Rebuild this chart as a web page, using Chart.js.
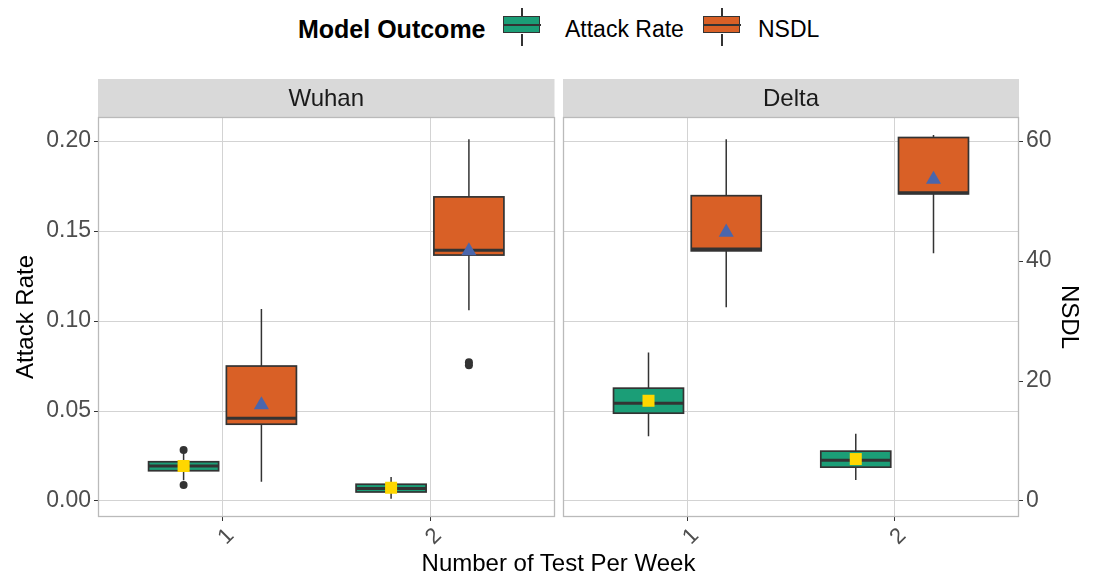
<!DOCTYPE html>
<html>
<head>
<meta charset="utf-8">
<script src="https://cdn.jsdelivr.net/npm/chart.js@4.4.1/dist/chart.umd.min.js"></script>
<style>
  html, body { margin: 0; padding: 0; background: #fff; }
  #wrap { position: relative; width: 1095px; height: 576px; overflow: hidden; font-family: "Liberation Sans", Arial, sans-serif; }
  canvas { position: absolute; }
  .lg { position: absolute; white-space: nowrap; line-height: 30px; height: 30px; top: 14px; color: #000; }
  .key { position: absolute; top: 8px; width: 38px; height: 38px; }
  .key .box { position: absolute; left: 0; top: 8px; width: 35px; height: 15px; border: 1.5px solid #333; }
  .key .med { position: absolute; left: 0; top: 16px; width: 38px; height: 2px; background: #333; }
  .key .wh { position: absolute; left: 18px; width: 1.5px; background: #333; }
  #xtitle { position: absolute; left: 0; width: 1117px; top: 549px; text-align: center; font-size: 24px; line-height: 28px; color: #000; }
</style>
</head>
<body>
<div id="wrap">
  <div class="lg" style="left:298px;font-size:25px;font-weight:bold;">Model Outcome</div>
  <div class="key" style="left:503px;">
    <div class="wh" style="top:0;height:8px;"></div>
    <div class="box" style="background:#1B9E77;"></div>
    <div class="med"></div>
    <div class="wh" style="top:26px;height:12px;"></div>
  </div>
  <div class="lg" style="left:565px;font-size:23px;">Attack Rate</div>
  <div class="key" style="left:703px;">
    <div class="wh" style="top:0;height:8px;"></div>
    <div class="box" style="background:#D96026;"></div>
    <div class="med"></div>
    <div class="wh" style="top:26px;height:12px;"></div>
  </div>
  <div class="lg" style="left:758px;font-size:23px;">NSDL</div>
  <canvas id="cWuhan" width="556" height="497" style="left:0px;top:79px;width:556px;height:497px;"></canvas>
  <canvas id="cDelta" width="537" height="497" style="left:558px;top:79px;width:537px;height:497px;"></canvas>
  <div id="xtitle">Number of Test Per Week</div>
</div>
<script>
// ---------------- data ----------------
const weeks = [1, 2];
const tickLabels = ['1', '2'];
const panelNames = ['Wuhan', 'Delta'];
const seriesNames = ['Attack Rate', 'NSDL'];
const attackRateTicks = [0, 0.05, 0.10, 0.15, 0.20];
const nsdlTicks = [0, 20, 40, 60];
const nsdlPerAttackRate = 300;          // secondary axis: NSDL = Attack Rate * 300
const attackRateRange = [-0.0089, 0.2134];

// box stats per week: [lower whisker, Q1, median, Q3, upper whisker]
const wuhanAttackRate = [[0.0115, 0.0168, 0.0195, 0.0218, 0.0265], [0.0012, 0.0050, 0.0070, 0.0093, 0.0133]];
const wuhanAttackRateMean = [0.0195, 0.0074];
const wuhanAttackRateOutliers = [[0.0089, 0.0284], []];
const wuhanNSDL = [[3.2, 12.8, 13.8, 22.5, 32.0], [31.8, 41.0, 41.8, 50.7, 60.3]];
const wuhanNSDLMean = [16.0, 41.7];
const wuhanNSDLOutliers = [[], [22.65, 23.15]];

const deltaAttackRate = [[0.0360, 0.0488, 0.0543, 0.0627, 0.0825], [0.0117, 0.0188, 0.0227, 0.0277, 0.0373]];
const deltaAttackRateMean = [0.0557, 0.0233];
const deltaAttackRateOutliers = [[], []];
const deltaNSDL = [[32.3, 41.7, 42.0, 50.9, 60.3], [41.3, 51.2, 51.4, 60.6, 61.0]];
const deltaNSDLMean = [44.8, 53.6];
const deltaNSDLOutliers = [[], []];

// ---------------- styles ----------------
const FONT = '"Liberation Sans", Arial, sans-serif';
const COL_AR = '#1B9E77', COL_NSDL = '#D96026';
const COL_MEAN_AR = '#FFD700', COL_MEAN_NSDL = '#4A66AC';
const DODGE = 0.1875, HALF_BOX = 0.16875;
const GRID = '#D3D3D3', BORDER = '#BABABA', TICKC = '#333333', TICKTXT = '#4D4D4D';

const boxPlugin = {
  id: 'boxes',
  beforeDatasetsDraw(chart, args, opts) {
    const { ctx, chartArea } = chart;
    const xs = chart.scales.x, ys = chart.scales.y;
    ctx.save();
    ctx.beginPath();
    ctx.rect(chartArea.left, chartArea.top, chartArea.right - chartArea.left, chartArea.bottom - chartArea.top);
    ctx.clip();
    opts.items.forEach(it => {
      it.stats.forEach((s, i) => {
        const xc = weeks[i] + it.offset;
        const xl = xs.getPixelForValue(xc - HALF_BOX), xr = xs.getPixelForValue(xc + HALF_BOX), xm = xs.getPixelForValue(xc);
        const [yLo, yQ1, yMed, yQ3, yHi] = s.map(d => ys.getPixelForValue(d / it.scale));
        ctx.strokeStyle = '#333333';
        ctx.lineWidth = 1.5;
        ctx.beginPath();
        ctx.moveTo(xm, yHi); ctx.lineTo(xm, yQ3);
        ctx.moveTo(xm, yQ1); ctx.lineTo(xm, yLo);
        ctx.stroke();
        ctx.fillStyle = it.color;
        ctx.fillRect(xl, yQ3, xr - xl, yQ1 - yQ3);
        ctx.lineWidth = 1.7;
        ctx.strokeRect(xl, yQ3, xr - xl, yQ1 - yQ3);
        ctx.lineWidth = 3;
        ctx.beginPath();
        ctx.moveTo(xl, yMed); ctx.lineTo(xr, yMed);
        ctx.stroke();
      });
    });
    ctx.restore();
  }
};

const panelPlugin = {
  id: 'panel',
  afterDraw(chart, args, opts) {
    const { ctx, chartArea: a } = chart;
    ctx.save();
    ctx.fillStyle = '#D9D9D9';
    ctx.fillRect(a.left, a.top - 38, a.right - a.left, 38);
    ctx.fillStyle = '#1A1A1A';
    ctx.font = '24px ' + FONT;
    ctx.textAlign = 'center';
    ctx.textBaseline = 'middle';
    ctx.fillText(opts.title, (a.left + a.right) / 2, a.top - 18);
    ctx.strokeStyle = BORDER;
    ctx.lineWidth = 1.3;
    ctx.strokeRect(Math.round(a.left) + 0.5, Math.round(a.top) + 0.5, Math.round(a.right - a.left) - 1, Math.round(a.bottom - a.top) - 1);
    ctx.restore();
  }
};

function pts(values, offset, scale) {
  return values.map((v, i) => ({ x: weeks[i] + offset, y: v / scale }));
}
function outlierPts(lists, offset, scale) {
  const out = [];
  lists.forEach((l, i) => l.forEach(v => out.push({ x: weeks[i] + offset, y: v / scale })));
  return out;
}
function noPad(s) { s.paddingLeft = 0; s.paddingRight = 0; s.paddingTop = 0; s.paddingBottom = 0; }

function makePanel(id, name, ar, arMean, arOut, ns, nsMean, nsOut, isLeft) {
  const scales = {
    x: {
      type: 'linear', min: 0.4, max: 2.6,
      afterBuildTicks: s => { s.ticks = weeks.map(v => ({ value: v })); },
      afterFit: s => { s.height = 59; noPad(s); },
      ticks: {
        callback: v => tickLabels[weeks.indexOf(v)],
        minRotation: 45, maxRotation: 45, color: TICKTXT, padding: 2, labelOffset: 8,
        font: { size: 22, family: FONT }
      },
      grid: { color: GRID, lineWidth: 1, tickLength: 4, tickColor: TICKC, tickWidth: 1 },
      border: { display: false }
    },
    y: {
      type: 'linear', position: 'left', min: attackRateRange[0], max: attackRateRange[1],
      afterBuildTicks: s => { s.ticks = attackRateTicks.map(v => ({ value: v })); },
      afterFit: s => { s.width = isLeft ? 98 : 0; noPad(s); },
      ticks: {
        display: isLeft,
        callback: v => v.toFixed(2), color: TICKTXT, padding: 3,
        font: { size: 23, family: FONT }
      },
      grid: { color: GRID, lineWidth: 1, drawTicks: isLeft, tickLength: 4, tickColor: TICKC, tickWidth: 1 },
      border: { display: false },
      title: { display: isLeft, text: seriesNames[0], color: '#000', font: { size: 24, family: FONT }, padding: { top: 12, bottom: 0 } }
    }
  };
  if (!isLeft) {
    scales.y2 = {
      type: 'linear', position: 'right',
      min: attackRateRange[0] * nsdlPerAttackRate, max: attackRateRange[1] * nsdlPerAttackRate,
      afterBuildTicks: s => { s.ticks = nsdlTicks.map(v => ({ value: v })); },
      afterFit: s => { s.width = 76; noPad(s); },
      ticks: { color: TICKTXT, padding: 3, font: { size: 23, family: FONT } },
      grid: { drawOnChartArea: false, tickLength: 4, tickColor: TICKC, tickWidth: 1 },
      border: { display: false },
      title: { display: true, text: seriesNames[1], color: '#000', font: { size: 24, family: FONT }, padding: { top: 12, bottom: 0 } }
    };
  }
  return new Chart(document.getElementById(id), {
    type: 'scatter',
    data: {
      datasets: [
        { label: 'AR mean', data: pts(arMean, -DODGE, 1), pointStyle: 'rect', pointRadius: 8.5, backgroundColor: COL_MEAN_AR, borderWidth: 0 },
        { label: 'NSDL mean', data: pts(nsMean, DODGE, nsdlPerAttackRate), pointStyle: 'triangle', pointRadius: 8.7, backgroundColor: COL_MEAN_NSDL, borderWidth: 0 },
        { label: 'AR outliers', data: outlierPts(arOut, -DODGE, 1), pointStyle: 'circle', pointRadius: 4, backgroundColor: '#333333', borderWidth: 0 },
        { label: 'NSDL outliers', data: outlierPts(nsOut, DODGE, nsdlPerAttackRate), pointStyle: 'circle', pointRadius: 4, backgroundColor: '#333333', borderWidth: 0 }
      ]
    },
    options: {
      responsive: false, animation: false, events: [],
      layout: {
        autoPadding: false,
        padding: isLeft ? { top: 38, right: 1.5, bottom: 0, left: 0 } : { top: 38, right: 0, bottom: 0, left: 5 }
      },
      scales,
      plugins: {
        legend: { display: false }, tooltip: { enabled: false },
        boxes: { items: [
          { stats: ar, offset: -DODGE, scale: 1, color: COL_AR },
          { stats: ns, offset: DODGE, scale: nsdlPerAttackRate, color: COL_NSDL }
        ] },
        panel: { title: name }
      }
    },
    plugins: [boxPlugin, panelPlugin]
  });
}

makePanel('cWuhan', panelNames[0], wuhanAttackRate, wuhanAttackRateMean, wuhanAttackRateOutliers, wuhanNSDL, wuhanNSDLMean, wuhanNSDLOutliers, true);
makePanel('cDelta', panelNames[1], deltaAttackRate, deltaAttackRateMean, deltaAttackRateOutliers, deltaNSDL, deltaNSDLMean, deltaNSDLOutliers, false);
</script>
</body>
</html>
